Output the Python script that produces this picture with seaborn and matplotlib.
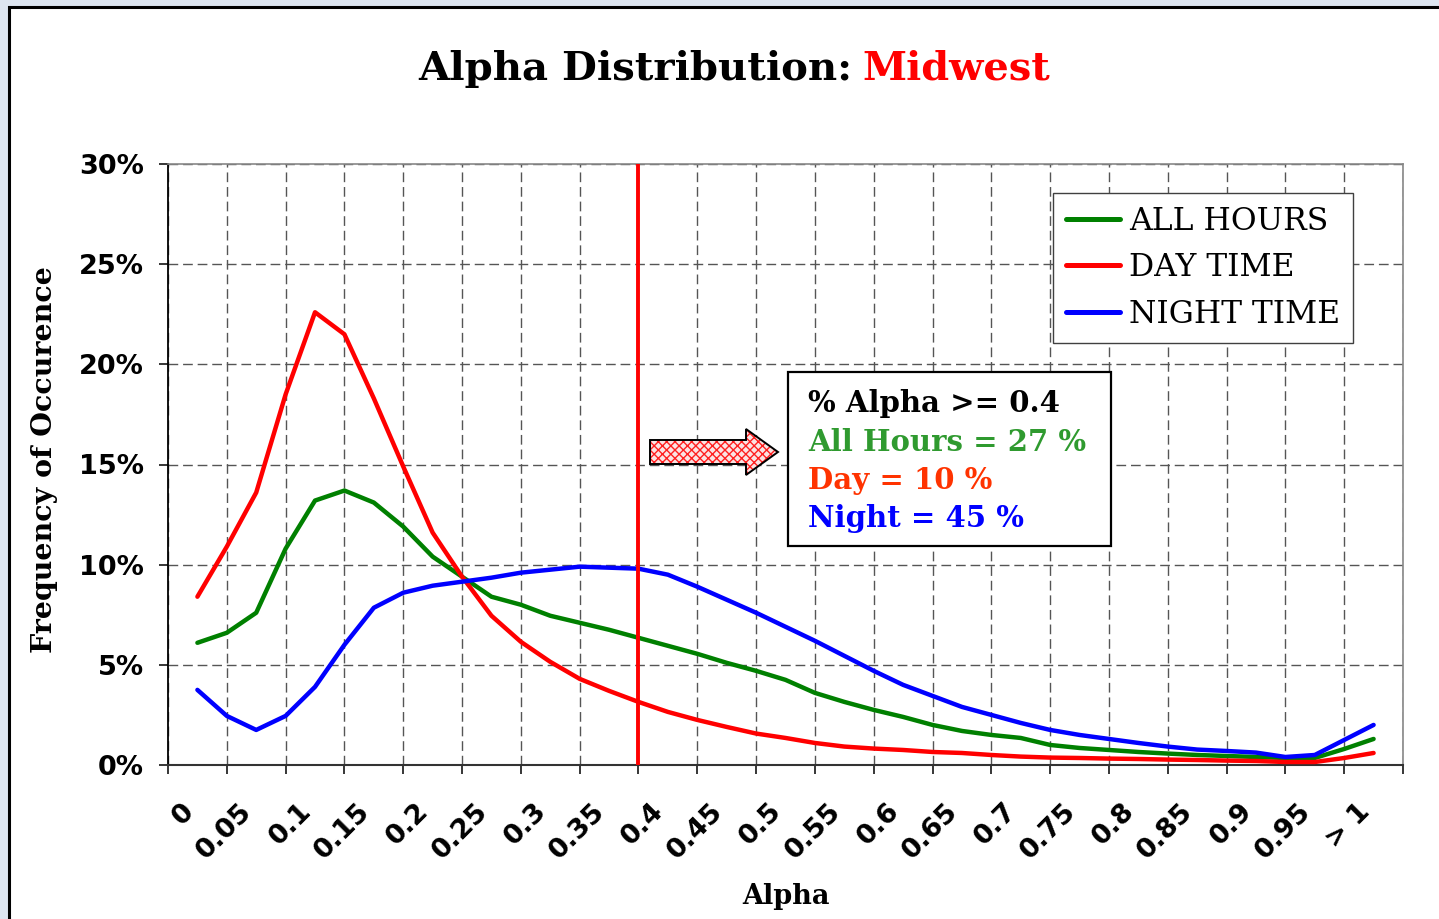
import numpy as np
import pandas as pd
import matplotlib
matplotlib.use("Agg")
import matplotlib.pyplot as plt
import seaborn as sns
from matplotlib.patches import Rectangle, Polygon
from matplotlib.lines import Line2D
from matplotlib.transforms import ScaledTranslation

# ---- data -----------------------------------------------------------------
# alpha bins are 0.025 wide; the axis is labelled every 0.05, last bin is "> 1"
alpha = np.round(np.arange(41) * 0.025, 3)
tick_values = alpha[::2]
tick_labels = ["0", "0.05", "0.1", "0.15", "0.2", "0.25", "0.3", "0.35", "0.4",
               "0.45", "0.5", "0.55", "0.6", "0.65", "0.7", "0.75", "0.8",
               "0.85", "0.9", "0.95", "> 1"]

all_hours = [6.1, 6.6, 7.6, 10.8, 13.2, 13.7, 13.1, 11.9, 10.4, 9.4, 8.4, 8.0,
             7.45, 7.1, 6.75, 6.35, 5.95, 5.55, 5.1, 4.7, 4.25, 3.6, 3.15, 2.75,
             2.4, 2.0, 1.7, 1.5, 1.35, 1.0, 0.85, 0.75, 0.65, 0.57, 0.5, 0.45,
             0.4, 0.35, 0.35, 0.8, 1.3]
day_time = [8.4, 10.9, 13.6, 18.5, 22.6, 21.5, 18.3, 14.9, 11.6, 9.4, 7.45, 6.15,
            5.15, 4.3, 3.7, 3.15, 2.65, 2.25, 1.9, 1.57, 1.35, 1.1, 0.92, 0.82,
            0.75, 0.65, 0.6, 0.5, 0.42, 0.37, 0.35, 0.32, 0.3, 0.27, 0.25, 0.22,
            0.2, 0.15, 0.15, 0.35, 0.6]
night_time = [3.75, 2.45, 1.75, 2.45, 3.9, 6.0, 7.85, 8.6, 8.95, 9.15, 9.35, 9.6,
              9.75, 9.9, 9.85, 9.8, 9.5, 8.9, 8.25, 7.6, 6.9, 6.2, 5.45, 4.7,
              4.0, 3.45, 2.9, 2.5, 2.1, 1.75, 1.5, 1.3, 1.1, 0.92, 0.77, 0.7,
              0.62, 0.4, 0.5, 1.25, 2.0]

series_names = ["ALL HOURS", "DAY TIME", "NIGHT TIME"]
series_colors = ["#008000", "#ff0000", "#0000ff"]

threshold = 0.4
share_names = ["All Hours", "Day", "Night"]
share_values = [27, 10, 45]
share_colors = ["#2f9a2f", "#ff3300", "#0000ff"]

df = pd.concat([
    pd.DataFrame({"alpha": alpha, "freq": vals, "series": name})
    for name, vals in zip(series_names, [all_hours, day_time, night_time])
])

# ---- figure ---------------------------------------------------------------
sns.set_style("white")
plt.rcParams["font.family"] = ["DejaVu Sans"]
plt.rcParams["text.color"] = "black"
plt.rcParams["axes.labelcolor"] = "black"
plt.rcParams["xtick.color"] = "black"
plt.rcParams["ytick.color"] = "black"

W, H = 1439, 919
fig = plt.figure(figsize=(W / 100, H / 100), dpi=100)
fig.patch.set_facecolor("#dde5f0")
fig.add_artist(Rectangle((9 / W, -0.05), 1.2, 1.05 - 7 / H,
                         transform=fig.transFigure, facecolor="white",
                         edgecolor="black", lw=2.2, zorder=-5))

ax = fig.add_axes([168 / W, 1 - 765 / H, 1235 / W, 601 / H])
ax.set_facecolor("white")

sns.lineplot(data=df, x="alpha", y="freq", hue="series",
             hue_order=series_names, palette=series_colors,
             linewidth=3.2, sort=False, legend=False, ax=ax, zorder=3)
for ln in ax.get_lines():
    ln.set_linewidth(3.2)
    ln.set_solid_capstyle("round")
    ln.set_solid_joinstyle("round")

half_bin = 0.025
ax.set_xlim(-half_bin, 1 + half_bin)
ax.set_ylim(0, 30)

# category labels at bin centres, tick marks / grid at group edges
ax.set_xticks(tick_values)
ax.set_xticklabels(tick_labels)
ax.set_xticks(np.arange(-half_bin, 1 + 2 * half_bin, 2 * half_bin), minor=True)
yticks = np.arange(0, 31, 5)
ax.set_yticks(yticks)
ax.set_yticklabels([f"{v}%" for v in yticks])

grid_kw = dict(color="#555555", lw=1.0, ls=(0, (7, 3.5)))
ax.grid(False)
ax.grid(which="minor", axis="x", **grid_kw)
ax.grid(which="major", axis="y", **grid_kw)
ax.set_axisbelow(True)

ax.tick_params(axis="x", which="major", length=0, pad=24,
               labelsize=19.5, labelcolor="black")
ax.tick_params(axis="x", which="minor", length=6.5, width=1.1,
               direction="out", color="black", bottom=True)
ax.tick_params(axis="y", which="major", length=6.5, width=1.1,
               direction="out", color="black", left=True, pad=11,
               labelsize=19.5, labelcolor="black")
for lab in ax.get_yticklabels():
    lab.set_fontweight("bold")
shift = ScaledTranslation(-17 / 100, 0, fig.dpi_scale_trans)
for lab in ax.get_xticklabels():
    lab.set_fontweight("bold")
    lab.set_rotation(45)
    lab.set_rotation_mode("anchor")
    lab.set_ha("right")
    lab.set_va("top")
    lab.set_transform(lab.get_transform() + shift)

for side in ["top", "right"]:
    ax.spines[side].set_color("#888888")
    ax.spines[side].set_linewidth(1.2)
ax.spines["left"].set_color("black")
ax.spines["left"].set_linewidth(1.3)
ax.spines["bottom"].set_color("#333333")
ax.spines["bottom"].set_linewidth(1.5)

# threshold marker at the lower edge of the 0.4 bin
ax.axvline(threshold - half_bin, color="red", lw=2.8, zorder=4)

ax.set_xlabel("Alpha", family="DejaVu Serif", fontweight="bold",
              fontsize=19.5, color="black")
ax.xaxis.set_label_coords((786 - 168) / 1235, (765 - 896) / 601)
ax.xaxis.label.set_va("center")
ax.set_ylabel("Frequency of Occurence", family="DejaVu Serif",
              fontweight="bold", fontsize=20.5, color="black")
ax.yaxis.set_label_coords((45 - 168) / 1235, (765 - 460) / 601)
ax.yaxis.label.set_va("center")

# title in two colours
fig.text(852 / W, 1 - 80 / H, "Alpha Distribution:", family="DejaVu Serif",
         fontweight="bold", fontsize=29, ha="right", va="baseline",
         color="black")
fig.text(862 / W, 1 - 80 / H, "Midwest", family="DejaVu Serif",
         fontweight="bold", fontsize=28.7, ha="left", va="baseline",
         color="red")

# legend
handles = [Line2D([], [], color=c, lw=3.6, solid_capstyle="round")
           for c in series_colors]
leg = ax.legend(handles, series_names, loc="upper left",
                bbox_to_anchor=((1053 - 168) / 1235, (765 - 193) / 601),
                borderaxespad=0, frameon=True, fancybox=False, framealpha=1,
                edgecolor="#404040", prop={"family": "DejaVu Serif", "size": 22.6},
                handlelength=1.75, handletextpad=0.28, borderpad=0.4,
                labelspacing=0.5)
leg.get_frame().set_linewidth(1.0)
for t in leg.get_texts():
    t.set_color("black")
leg.set_zorder(6)

# callout arrow (block arrow with red crosshatch)
y_c, sh, hh = (765 - 452) / 601, 12 / 601, 23 / 601
x_t, x_h, x_p = (650 - 168) / 1235, (746 - 168) / 1235, (778 - 168) / 1235
arrow_xy = [(x_t, y_c - sh), (x_h, y_c - sh), (x_h, y_c - hh), (x_p, y_c),
            (x_h, y_c + hh), (x_h, y_c + sh), (x_t, y_c + sh)]
ax.add_patch(Polygon(arrow_xy, closed=True, transform=ax.transAxes,
                     facecolor="#fbe3e3", edgecolor="#ff2020", lw=0,
                     hatch="xxxx", zorder=5))
ax.add_patch(Polygon(arrow_xy, closed=True, transform=ax.transAxes,
                     fill=False, edgecolor="black", lw=1.4, zorder=5))

# callout box with the share of alpha >= threshold
bx0, bx1 = (788 - 168) / 1235, (1111 - 168) / 1235
by0, by1 = (765 - 546) / 601, (765 - 372) / 601
ax.add_patch(Rectangle((bx0, by0), bx1 - bx0, by1 - by0, transform=ax.transAxes,
                       facecolor="white", edgecolor="black", lw=1.6, zorder=5))
tx = (808 - 168) / 1235
lines = [(f"% Alpha >= {threshold}", "black")]
lines += [(f"{n} = {v} %", c) for n, v, c in zip(share_names, share_values, share_colors)]
for (txt, col), base in zip(lines, [412, 451, 489, 527]):
    ax.text(tx, (765 - base) / 601, txt, transform=ax.transAxes, color=col,
            family="DejaVu Serif", fontweight="bold", fontsize=21,
            ha="left", va="baseline", zorder=6)

fig.savefig("out.png", dpi=100, facecolor=fig.get_facecolor())
